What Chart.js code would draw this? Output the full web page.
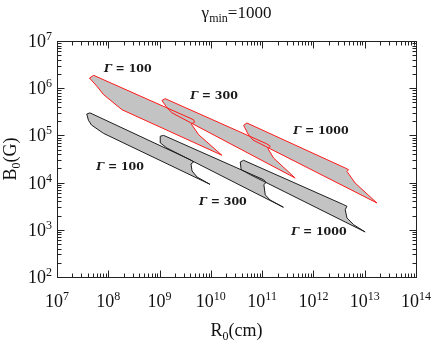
<!DOCTYPE html>
<html>
<head>
<meta charset="utf-8">
<script src="https://cdn.jsdelivr.net/npm/chart.js@4/dist/chart.umd.min.js"></script>
<style>
html, body { margin: 0; padding: 0; background: #fff; }
</style>
</head>
<body>
<canvas id="chart" width="436" height="349"></canvas>
<script>
// axis ranges (decade exponents)
const xDecades = [7, 8, 9, 10, 11, 12, 13, 14];
const yDecades = [2, 3, 4, 5, 6, 7];

// regions, upper set (red outline)
const red100R = [4.3e7, 5.2e7, 4.6e9, 4.8e9, 4.15e9, 5.8e9, 1.64e10, 1.85e8, 8.1e7, 6.0e7];
const red100B = [1.64e6, 1.87e6, 2.15e5, 1.9e5, 1.75e5, 1.03e5, 3.8e4, 3.5e5, 7.3e5, 1.1e6];
const red300R = [1.11e9, 1.29e9, 1.24e11, 1.44e11, 1.3e11, 1.68e11, 4.4e11, 1.75e9, 1.39e9];
const red300B = [5.5e5, 6.0e5, 6.6e4, 5.9e4, 5.2e4, 3.3e4, 1.25e4, 3.0e5, 3.9e5];
const red1000R = [4.35e10, 5.06e10, 4.17e12, 4.85e12, 4.5e12, 6.5e12, 1.73e13, 6.6e10, 5.3e10];
const red1000B = [1.64e5, 1.83e5, 2.04e4, 1.88e4, 1.73e4, 9.8e3, 3.7e3, 8.0e4, 1.07e5];

// regions, lower set (black outline)
const black100R = [3.8e7, 4.4e7, 4.1e9, 4.6e9, 4.1e9, 4.3e9, 5.4e9, 9.6e9, 8.0e7, 4.7e7, 4.1e7];
const black100B = [2.84e5, 3.0e5, 3.0e4, 2.73e4, 2.48e4, 1.76e4, 1.31e4, 9.2e3, 1.11e5, 1.66e5, 2.1e5];
const black300R = [1.03e9, 1.2e9, 1.07e11, 1.19e11, 1.08e11, 1.15e11, 1.42e11, 2.6e11, 1.39e9, 1.04e9];
const black300B = [9.6e4, 1.0e5, 1.15e4, 1.0e4, 9.1e3, 5.5e3, 4.3e3, 3.0e3, 5.4e4, 6.9e4];
const black1000R = [3.74e10, 4.35e10, 3.9e12, 4.5e12, 4.17e12, 4.5e12, 6.1e12, 1.02e13, 5.9e10, 3.9e10];
const black1000B = [2.73e4, 2.97e4, 3.4e3, 3.15e3, 2.67e3, 1.78e3, 1.28e3, 9.0e2, 1.47e4, 1.88e4];

// Γ labels
const labelGamma = [100, 300, 1000, 100, 300, 1000];
const labelR = [2.4e8, 1.15e10, 1.4e12, 1.7e8, 1.72e10, 1.28e12];
const labelB = [2.55e6, 6.8e5, 1.24e5, 2.15e4, 3.9e3, 9.0e2];

function toPoints(rs, bs) {
    const pts = rs.map((r, i) => ({ x: r, y: bs[i] }));
    pts.push({ x: rs[0], y: bs[0] });
    return pts;
}

function region(rs, bs, color) {
    return {
        data: toPoints(rs, bs),
        showLine: true,
        fill: 'shape',
        backgroundColor: '#c3c3c3',
        borderColor: color,
        borderWidth: 1,
        pointRadius: 0,
        tension: 0
    };
}

function drawPow(ctx, x, y, exp, align) {
    ctx.font = '18px "Liberation Serif"';
    const wb = ctx.measureText('10').width;
    ctx.font = '12px "Liberation Serif"';
    const we = ctx.measureText(String(exp)).width;
    let x0 = align === 'right' ? x - wb - we : x - (wb + we) / 2;
    ctx.textAlign = 'left';
    ctx.textBaseline = 'alphabetic';
    ctx.font = '18px "Liberation Serif"';
    ctx.fillText('10', x0, y);
    ctx.font = '12px "Liberation Serif"';
    ctx.fillText(String(exp), x0 + wb, y - 7);
}

function drawSub(ctx, x, y, parts) {
    // parts: [text, size, dy]
    let total = 0;
    parts.forEach(p => { ctx.font = p[1] + 'px "Liberation Serif"'; total += ctx.measureText(p[0]).width; });
    let cx = x - total / 2;
    ctx.textAlign = 'left';
    ctx.textBaseline = 'alphabetic';
    parts.forEach(p => {
        ctx.font = p[1] + 'px "Liberation Serif"';
        ctx.fillText(p[0], cx, y + p[2]);
        cx += ctx.measureText(p[0]).width;
    });
}

const decor = {
    id: 'decor',
    afterDraw(chart) {
        const ctx = chart.ctx;
        const a = chart.chartArea;
        const xs = chart.scales.x;
        const ys = chart.scales.y;
        ctx.save();
        ctx.fillStyle = '#111';
        ctx.strokeStyle = '#222';
        ctx.lineWidth = 1;

        // frame
        const L = Math.round(a.left) + 0.5, R = Math.round(a.right) + 0.5;
        const T = Math.round(a.top) + 0.5, B = Math.round(a.bottom) + 0.5;
        ctx.strokeRect(L, T, R - L, B - T);

        // inward ticks
        ctx.beginPath();
        for (let i = 0; i < xDecades.length - 1; i++) {
            for (let m = 1; m <= 9; m++) {
                const px = Math.round(xs.getPixelForValue(m * Math.pow(10, xDecades[i]))) + 0.5;
                const len = m === 1 ? 7 : 4;
                ctx.moveTo(px, B); ctx.lineTo(px, B - len);
                ctx.moveTo(px, T); ctx.lineTo(px, T + len);
            }
        }
        for (let i = 0; i < yDecades.length - 1; i++) {
            for (let m = 1; m <= 9; m++) {
                const py = Math.round(ys.getPixelForValue(m * Math.pow(10, yDecades[i]))) + 0.5;
                const len = m === 1 ? 7 : 4;
                ctx.moveTo(L, py); ctx.lineTo(L + len, py);
                ctx.moveTo(R, py); ctx.lineTo(R - len, py);
            }
        }
        ctx.stroke();

        // tick labels
        xDecades.forEach(d => drawPow(ctx, xs.getPixelForValue(Math.pow(10, d)), a.bottom + 30, d, 'center'));
        yDecades.forEach(d => drawPow(ctx, a.left - 5, ys.getPixelForValue(Math.pow(10, d)) + 6, d, 'right'));

        // axis titles
        drawSub(ctx, (a.left + a.right) / 2, a.bottom + 59, [['R', 18, 0], ['0', 12, 4], ['(cm)', 18, 0]]);
        ctx.save();
        ctx.translate(16, (a.top + a.bottom) / 2);
        ctx.rotate(-Math.PI / 2);
        drawSub(ctx, 0, 0, [['B', 18, 0], ['0', 12, 4], ['(G)', 18, 0]]);
        ctx.restore();

        // title
        drawSub(ctx, (a.left + a.right) / 2, 18, [['γ', 17, 0], ['min', 12, 4], ['=1000', 17, 0]]);

        // Γ labels
        ctx.fillStyle = '#1a1a1a';
        labelGamma.forEach((g, i) => {
            const px = xs.getPixelForValue(labelR[i]);
            const py = ys.getPixelForValue(labelB[i]);
            ctx.font = 'italic bold 11px "DejaVu Serif"';
            const wg = ctx.measureText('Γ').width;
            ctx.font = 'bold 11px "DejaVu Serif"';
            const rest = ' = ' + g;
            const wr = ctx.measureText(rest).width;
            let x0 = px - (wg + wr) / 2;
            ctx.textAlign = 'left';
            ctx.textBaseline = 'middle';
            ctx.font = 'italic bold 11px "DejaVu Serif"';
            ctx.fillText('Γ', x0, py);
            ctx.font = 'bold 11px "DejaVu Serif"';
            ctx.fillText(rest, x0 + wg, py);
        });
        ctx.restore();
    }
};

const chart = new Chart(document.getElementById('chart'), {
    type: 'scatter',
    data: {
        datasets: [
            region(red100R, red100B, '#ff1a1a'),
            region(red300R, red300B, '#ff1a1a'),
            region(red1000R, red1000B, '#ff1a1a'),
            region(black100R, black100B, '#1e1e1e'),
            region(black300R, black300B, '#1e1e1e'),
            region(black1000R, black1000B, '#1e1e1e')
        ]
    },
    options: {
        responsive: false,
        devicePixelRatio: 1,
        animation: false,
        layout: { padding: { left: 57, right: 20, top: 41, bottom: 72 } },
        scales: {
            x: {
                type: 'logarithmic',
                min: 1e7, max: 1e14,
                ticks: { display: false },
                grid: { display: false, drawTicks: false },
                border: { display: false }
            },
            y: {
                type: 'logarithmic',
                min: 1e2, max: 1e7,
                ticks: { display: false },
                grid: { display: false, drawTicks: false },
                border: { display: false }
            }
        },
        plugins: {
            legend: { display: false },
            tooltip: { enabled: false },
            filler: { drawTime: 'beforeDatasetsDraw' }
        }
    },
    plugins: [decor]
});
</script>
</body>
</html>
